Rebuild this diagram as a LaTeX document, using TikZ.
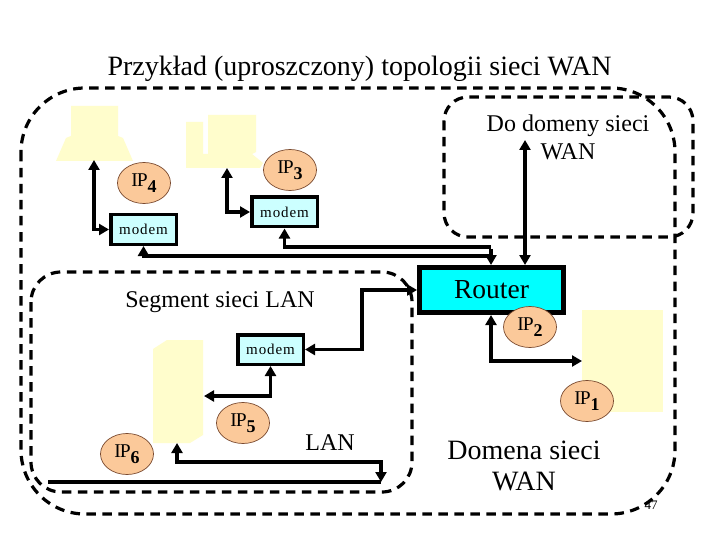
\documentclass[tikz,border=0pt]{standalone}
\usepackage{fontspec}
\setmainfont{Liberation Serif}
\usetikzlibrary{arrows.meta,shapes.geometric}
\definecolor{pale}{HTML}{FFFDCC}
\definecolor{ipfill}{HTML}{FBC99A}
\definecolor{ipline}{HTML}{7A4A30}
\definecolor{modemfill}{HTML}{CCFFFF}
\definecolor{routerfill}{HTML}{00FFFF}
\tikzset{
  zone/.style={draw=black,line width=3.2pt,dash pattern=on 9.5pt off 6.5pt,rounded corners=#1,fill=none},
  modembox/.style={draw=black,line width=3.5pt,fill=modemfill,minimum width=65.5pt,minimum height=29.5pt,inner sep=0pt,font=\fontsize{15}{15}\selectfont\addfontfeatures{LetterSpace=6}},
  routerbox/.style={draw=black,line width=5pt,fill=routerfill,minimum width=144pt,minimum height=45pt,inner sep=0pt,font=\fontsize{27.5}{27.5}\selectfont},
  ipnode/.style={ellipse,draw=ipline,line width=0.7pt,fill=ipfill,minimum width=53pt,minimum height=41pt,inner sep=0pt,font=\fontsize{19.5}{19.5}\selectfont},
  txt/.style={align=center,inner sep=0pt,font=\fontsize{24}{28}\selectfont},
  link/.style={draw=black,line width=3.7pt,line join=miter},
  both/.style={link,{Triangle[length=10pt,width=11pt]}-{Triangle[length=10pt,width=11pt]}},
  into/.style={link,-{Triangle[length=10pt,width=11pt]}},
  paleshape/.style={fill=pale,draw=none}
}
\newcommand{\ipt}[1]{\addfontfeatures{LetterSpace=-6}IP\raisebox{-6pt}{\fontsize{18}{18}\selectfont\bfseries #1}}
\begin{document}
\begin{tikzpicture}[x=1pt,y=-1pt]
\useasboundingbox (0,0) rectangle (720,540);
\fill[white] (0,0) rectangle (720,540);
% pale equipment
\fill[paleshape] (71,106) -- (118,106) -- (118,136) -- (123,138) -- (133,161) -- (56,161) -- (66,138) -- (71,136) -- cycle;
\fill[paleshape] (186,122) -- (203,122) -- (203,154) -- (208,154) -- (208,115) -- (256,115) -- (256,152) -- (252,154) -- (263,163) -- (260,168) -- (186,168) -- cycle;
\fill[paleshape] (167,340) -- (203,340) -- (203,435) -- (190,443) -- (153,443) -- (153,349) -- cycle;
\fill[paleshape] (582,310) rectangle (663,412);
% zones
\draw[zone=64] (21,88) rectangle (675,514);
\draw[zone=24] (444,97) rectangle (693,237);
\draw[zone=30] (31,272) rectangle (412,492);
% end points on equipment
\coordinate (pc4) at (94,160);
\coordinate (pc3) at (227,168);
\coordinate (srvR) at (204,396);
\coordinate (srvB) at (177,443);
\coordinate (pc1) at (582,361);
\coordinate (wan) at (525,140);
\coordinate (lanL) at (48,482);
\coordinate (lanR) at (381,482);
\coordinate (busA) at (491,247);
\coordinate (busB) at (491,256);
\coordinate (bend) at (362,349.5);
\coordinate (lanup) at (381,462);
% boxes
\node[modembox] (m4) at (143.5,229.5) {modem};
\node[modembox] (m3) at (284.5,212) {modem};
\node[modembox] (m5) at (270.5,349.5) {modem};
\node[routerbox] (r) at (491.5,290) {Router};
% connectors
\draw[both] (pc4) |- (m4.west);
\draw[both] (pc3) |- (m3.west);
\draw[into] (busA) -| (m3.south);
\draw[into] (busB) -| (m4.south);
\draw[into] ([yshift=-1.8pt]busA) -- (r.north -| busA);
\draw[both] (wan) -- (r.north -| wan);
\draw[both] (r.west) -| (bend) -- (m5.east);
\draw[both] (m5.south) |- (srvR);
\draw[link] (lanL) -- (lanR);
\draw[both] (srvB) |- (lanup) -- (lanR);
\draw[both] (r.south -| busA) |- (pc1);
% ip
\node[ipnode] (ip4) at (144,183) {\ipt{4}};
\node[ipnode] (ip3) at (290,170) {\ipt{3}};
\node[ipnode] (ip2) at (530,327) {\ipt{2}};
\node[ipnode] (ip1) at (587,401) {\ipt{1}};
\node[ipnode] (ip5) at (243,423) {\ipt{5}};
\node[ipnode] (ip6) at (127,454) {\ipt{6}};
% text
\node[txt,font=\fontsize{28}{30}\selectfont] (title) at (359.5,69) {Przykład (uproszczony) topologii sieci WAN};
\node[txt] (t1) at (568,137) {Do domeny sieci\\WAN};
\node[txt] (t2) at (220,302) {Segment sieci LAN};
\node[txt] (t3) at (330,443) {LAN};
\node[txt,font=\fontsize{28}{31}\selectfont] (t4) at (524,466) {Domena sieci\\WAN};
\node[txt,font=\fontsize{13}{13}\selectfont] (n47) at (651,505) {47};
\end{tikzpicture}
\end{document}
